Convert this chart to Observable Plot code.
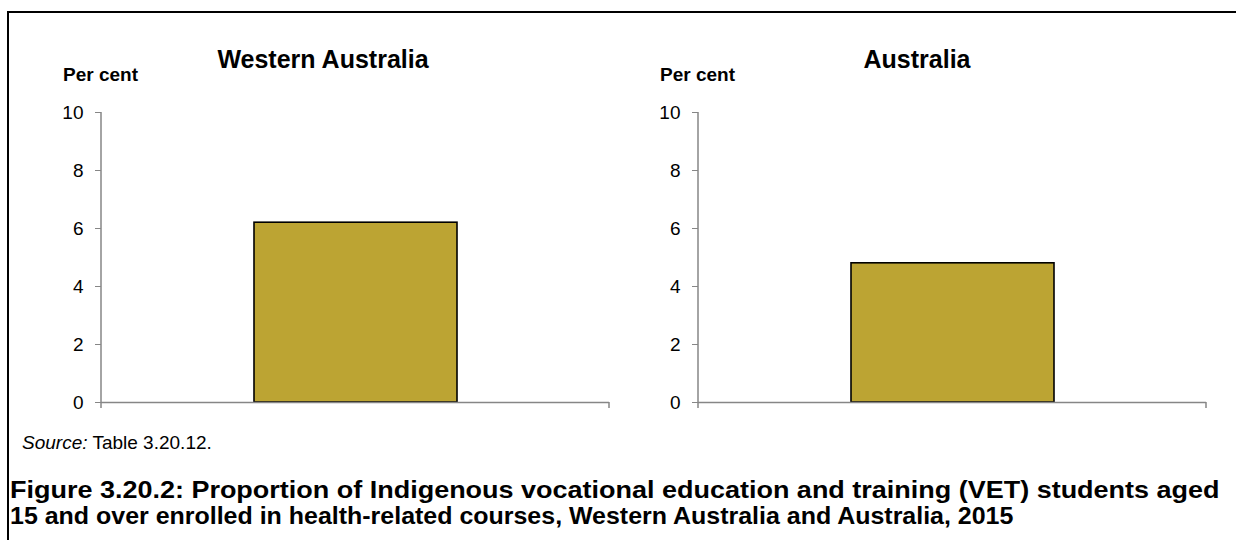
<!DOCTYPE html>
<html>
<head>
<meta charset="utf-8">
<script src="https://cdn.jsdelivr.net/npm/d3@7"></script>
<script src="https://cdn.jsdelivr.net/npm/@observablehq/plot@0.6"></script>
<style>
  html, body { margin: 0; padding: 0; background: #fff; }
  #root { position: relative; width: 1236px; height: 540px; overflow: hidden; font-family: "Liberation Sans", Arial, sans-serif; color: #000; }
  .frame { position: absolute; left: 7px; top: 11px; width: 1300px; height: 600px; border-left: 2.5px solid #000; border-top: 2.5px solid #000; }
  .txt { position: absolute; white-space: nowrap; line-height: 1; }
  .panel { position: absolute; top: 100px; }
</style>
</head>
<body>
<div id="root">
  <div class="frame"></div>
</div>
<script>
// ---- data ----
const panelTitles = ["Western Australia", "Australia"];
const categories = ["2015"];
const waValues = [6.2];
const ausValues = [4.8];
const yTicks = [0, 2, 4, 6, 8, 10];
const yLabel = "Per cent";
const sourceText = "Table 3.20.12.";
const captionLines = [
  "Figure 3.20.2: Proportion of Indigenous vocational education and training (VET) students aged",
  "15 and over enrolled in health-related courses, Western Australia and Australia, 2015"
];

const root = document.getElementById("root");
const AXIS = "#868686";

function addText(text, left, top, size, opts = {}) {
  const d = document.createElement("div");
  d.className = "txt";
  d.textContent = text;
  d.style.left = left + "px";
  d.style.top = top + "px";
  d.style.fontSize = size + "px";
  if (opts.bold) d.style.fontWeight = "bold";
  if (opts.center) { d.style.transform = "translateX(-50%)"; }
  if (opts.stretch) { d.style.transformOrigin = "0 0"; d.style.transform = "scaleX(" + opts.stretch + ")"; }
  root.appendChild(d);
  return d;
}

function makePanel(values, left, title, titleCenter) {
  const data = categories.map((c, i) => ({cat: c, value: values[i]}));
  const plot = Plot.plot({
    width: 618,
    height: 320,
    marginLeft: 101,
    marginRight: 9,
    marginTop: 12,
    marginBottom: 18,
    style: {fontFamily: "'Liberation Sans', Arial, sans-serif", fontSize: "19px", color: "#000", background: "transparent", overflow: "visible"},
    x: {domain: categories, padding: 0.4286, axis: null},
    y: {domain: [0, 10], ticks: yTicks, label: null, axis: null},
    marks: [
      Plot.barY(data, {x: "cat", y: "value", fill: "#BCA433", stroke: "#000", strokeWidth: 1.6}),
      Plot.ruleY([0], {stroke: AXIS, strokeWidth: 1.5}),
      Plot.axisY({ticks: yTicks, tickSize: 6, tickPadding: 12, stroke: AXIS, fill: "#000", tickFormat: d => String(d), label: null})
    ]
  });
  // y-axis line and category boundary tick marks, positioned from Plot's scales
  const xs = plot.scale("x");
  const ys = plot.scale("y");
  const x0 = xs.range[0], x1 = xs.range[1];
  const yTop = ys.apply(10), yBase = ys.apply(0);
  const g = d3.select(plot).append("g").attr("stroke", AXIS).attr("stroke-width", 1.5);
  g.append("line").attr("x1", x0).attr("x2", x0).attr("y1", yTop).attr("y2", yBase + 6);
  g.append("line").attr("x1", x1).attr("x2", x1).attr("y1", yBase).attr("y2", yBase + 6);
  const wrap = document.createElement("div");
  wrap.className = "panel";
  wrap.style.left = left + "px";
  wrap.appendChild(plot);
  root.appendChild(wrap);
  addText(title, titleCenter, 47, 25, {bold: true, center: true});
  addText(yLabel, left + 63, 65, 19, {bold: true});
}

makePanel(waValues, 0, panelTitles[0], 323);
makePanel(ausValues, 597, panelTitles[1], 917);

// source line
const s = addText("", 22, 433, 19);
s.innerHTML = "<i>Source:</i> " + sourceText;

// caption (two lines); horizontal stretch per line to match the reference widths
const capStretch = [1.124, 1.04];
captionLines.forEach((line, i) => {
  addText(line, 10, 478 + i * 26, 24, {bold: true, stretch: capStretch[i]});
});
</script>
</body>
</html>
